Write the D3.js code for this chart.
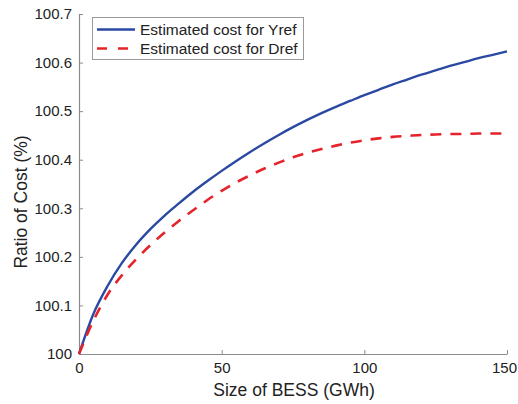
<!DOCTYPE html>
<html>
<head>
<meta charset="utf-8">
<script src="https://cdn.jsdelivr.net/npm/d3@7"></script>
<style>
  html, body { margin: 0; padding: 0; background: #fff; }
  svg { display: block; font-family: "Liberation Sans", Arial, Helvetica, sans-serif; }
</style>
</head>
<body>
<svg id="chart" width="518" height="404"></svg>
<script>
// ---- data ----
const sizeGWh = [0, 5, 10, 15, 20, 25, 30, 35, 40, 45, 50, 55, 60, 65, 70, 75,
                 80, 85, 90, 95, 100, 105, 110, 115, 120, 125, 130, 135, 140, 145, 150];
const costYref = [100.000, 100.082, 100.140, 100.187, 100.225, 100.257, 100.285, 100.310,
                  100.334, 100.356, 100.377, 100.397, 100.416, 100.434, 100.451, 100.467,
                  100.482, 100.496, 100.509, 100.521, 100.533, 100.544, 100.555, 100.565,
                  100.575, 100.584, 100.593, 100.601, 100.609, 100.616, 100.623];
const costDref = [100.000, 100.068, 100.122, 100.162, 100.195, 100.224, 100.250, 100.274,
                  100.296, 100.317, 100.336, 100.353, 100.368, 100.382, 100.394, 100.405,
                  100.414, 100.422, 100.429, 100.435, 100.440, 100.444, 100.447, 100.449,
                  100.451, 100.452, 100.453, 100.453, 100.454, 100.454, 100.454];
const xTicks = [0, 50, 100, 150];
const yTicks = [100, 100.1, 100.2, 100.3, 100.4, 100.5, 100.6, 100.7];
const seriesNames = ["Estimated cost for Yref", "Estimated cost for Dref"];
const xTitle = "Size of BESS (GWh)";
const yTitle = "Ratio of Cost (%)";

// ---- layout ----
const svg = d3.select("#chart");
const mLeft = 79, mRight = 507, mTop = 14, mBottom = 354;
const axisColor = "#8c8c8c";
const textColor = "#222";
const blue = "#2b49a3";
const red = "#e5232b";

const x = d3.scaleLinear().domain([0, 150]).range([mLeft, mRight]);
const y = d3.scaleLinear().domain([100, 100.7]).range([mBottom, mTop]);

// axes
const xAxis = d3.axisBottom(x).tickValues(xTicks).tickSizeInner(-4).tickSizeOuter(0).tickPadding(8)
  .tickFormat(d3.format("d"));
const yAxis = d3.axisLeft(y).tickValues(yTicks).tickSizeInner(-4).tickSizeOuter(0).tickPadding(7)
  .tickFormat(d => d === 100 ? "100" : d3.format(".1f")(d));

const gx = svg.append("g").attr("transform", `translate(0,${mBottom})`).call(xAxis);
const gy = svg.append("g").attr("transform", `translate(${mLeft},0)`).call(yAxis);
[gx, gy].forEach(g => {
  g.select(".domain").attr("stroke", axisColor).attr("stroke-width", 1.2);
  g.selectAll(".tick line").attr("stroke", axisColor);
  g.selectAll(".tick text").attr("fill", textColor).attr("font-size", 15)
    .attr("font-family", "Liberation Sans, Arial, sans-serif");
});
// keep the last x tick label inside the page
gx.selectAll(".tick text").filter(d => d === xTicks[xTicks.length - 1]).attr("dx", -3);

// titles
svg.append("text").attr("x", (mLeft + mRight) / 2 + 1).attr("y", 396)
  .attr("text-anchor", "middle").attr("font-size", 17.5).attr("fill", textColor).text(xTitle);
svg.append("text").attr("transform", "translate(27,202) rotate(-90)")
  .attr("text-anchor", "middle").attr("font-size", 17.5).attr("fill", textColor).text(yTitle);

// lines
const line = d3.line().x((d, i) => x(sizeGWh[i])).y(d => y(d)).curve(d3.curveMonotoneX);
svg.append("path").datum(costYref).attr("d", line).attr("fill", "none")
  .attr("stroke", blue).attr("stroke-width", 2.4);
svg.append("path").datum(costDref).attr("d", line).attr("fill", "none")
  .attr("stroke", red).attr("stroke-width", 2.6).attr("stroke-dasharray", "11,9");

// legend
const lg = svg.append("g");
lg.append("rect").attr("x", 92.5).attr("y", 17.5).attr("width", 211).attr("height", 42)
  .attr("fill", "#fff").attr("stroke", "#9a9a9a").attr("stroke-width", 1);
const legendItems = [
  { name: seriesNames[0], color: blue, dash: null, cy: 29.5 },
  { name: seriesNames[1], color: red, dash: "10,11", cy: 48.5 }
];
legendItems.forEach(it => {
  lg.append("line").attr("x1", 97).attr("x2", 135).attr("y1", it.cy).attr("y2", it.cy)
    .attr("stroke", it.color).attr("stroke-width", it.dash ? 2.6 : 2.4)
    .attr("stroke-dasharray", it.dash);
  lg.append("text").attr("x", 140).attr("y", it.cy + 5.5).attr("font-size", 15.5)
    .attr("fill", textColor).text(it.name);
});
</script>
</body>
</html>
